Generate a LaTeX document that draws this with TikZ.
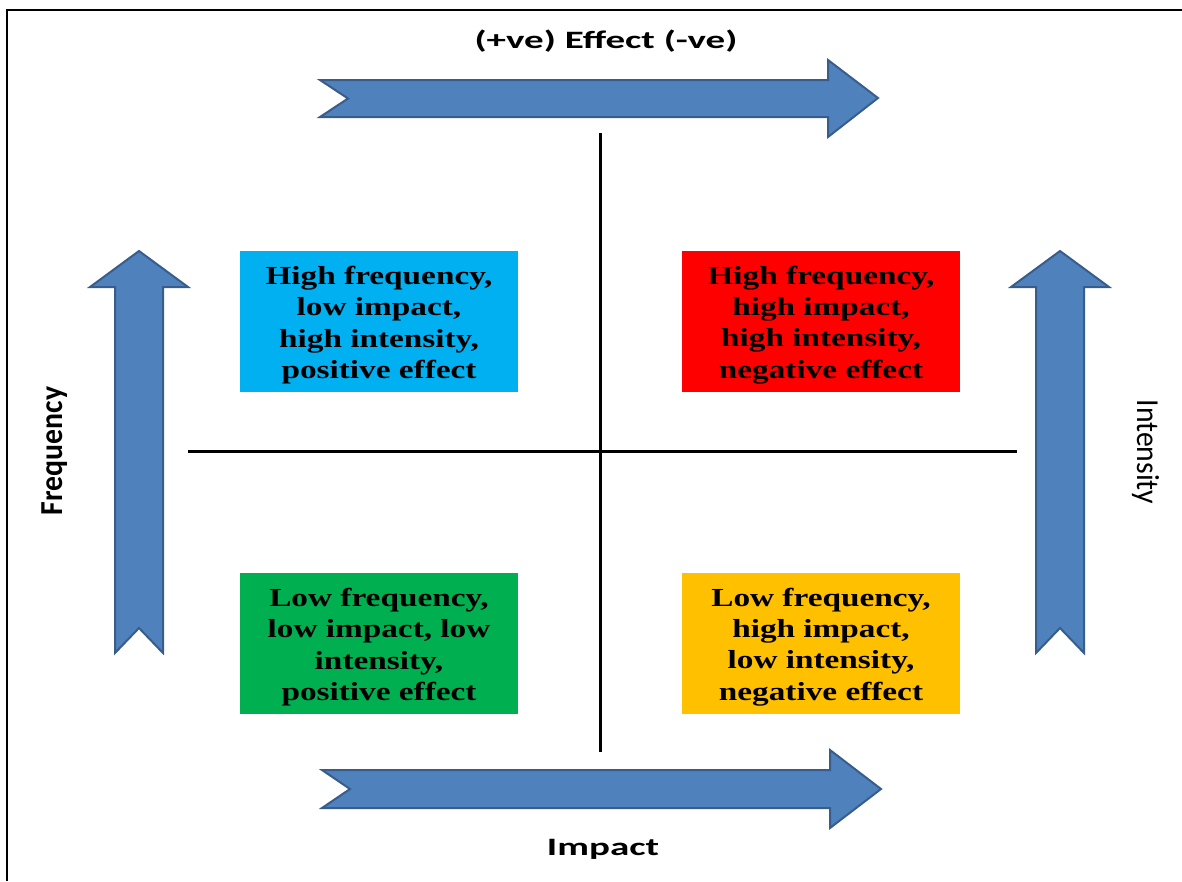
\documentclass[tikz,border=0pt]{standalone}
\usepackage{fontspec}
\newfontfamily\boxfont[FakeStretch=1.28]{Liberation Serif}
\newfontfamily\labfont[FakeStretch=1.56]{Carlito}
\newfontfamily\vlabfont[FakeStretch=0.93]{Carlito}
\definecolor{arrfill}{RGB}{79,129,189}
\definecolor{arrline}{RGB}{56,93,138}
\definecolor{qcyan}{RGB}{0,176,240}
\definecolor{qred}{RGB}{255,0,0}
\definecolor{qgreen}{RGB}{0,176,80}
\definecolor{qorange}{RGB}{255,192,0}
\tikzset{
  bigarrow/.style={fill=arrfill,draw=arrline,line width=2pt,line join=miter},
  quadbox/.style={minimum width=278pt,minimum height=141pt,inner sep=0pt},
  quadtext/.style={inner sep=0pt,align=center,yshift=-3.5pt,
    font=\boxfont\bfseries\fontsize{26}{31.3}\selectfont,text=black},
  axislabel/.style={font=\labfont\bfseries\fontsize{25}{30}\selectfont,inner sep=0pt},
  vlabel/.style={font=\vlabfont\bfseries\fontsize{32}{36}\selectfont,inner sep=0pt},
  crossline/.style={line width=3pt,black}
}
\begin{document}
\begin{tikzpicture}[x=1pt,y=-1pt]
\useasboundingbox (0,0) rectangle (1182,881);
% frame
\draw[line width=2.5pt] (7,881) -- (7,10) -- (1182,10);
% arrows
\draw[bigarrow] (320,80) -- (828,80) -- (828,60) -- (878,98) -- (828,137) -- (828,117) -- (320,117) -- (348,98.5) -- cycle;
\draw[bigarrow] (322,770) -- (830,770) -- (830,750) -- (881,789) -- (830,828) -- (830,808) -- (322,808) -- (350,789) -- cycle;
\draw[bigarrow] (115,653) -- (115,287) -- (90,287) -- (139,251) -- (188,287) -- (163,287) -- (163,653) -- (139,628) -- cycle;
\draw[bigarrow] (1036,653) -- (1036,287) -- (1011,287) -- (1060,251) -- (1109,287) -- (1084,287) -- (1084,653) -- (1060,628) -- cycle;
% cross
\coordinate (vt) at (600,133);
\coordinate (vb) at (600,752);
\coordinate (hl) at (188,451);
\coordinate (hr) at (1017,451);
\draw[crossline] (vt) -- (vb);
\draw[crossline] (hl) -- (hr);
% boxes
\node[quadbox,fill=qcyan] (tl) at (379,321.5) {};
\node[quadbox,fill=qred] (tr) at (821,321.5) {};
\node[quadbox,fill=qgreen] (bl) at (379,643.5) {};
\node[quadbox,fill=qorange] (br) at (821,643.5) {};
\node[quadtext] (tltext) at (tl) {High frequency,\\low impact,\\high intensity,\\positive effect};
\node[quadtext] (trtext) at (tr) {High frequency,\\high impact,\\high intensity,\\negative effect};
\node[quadtext] (bltext) at (bl) {Low frequency,\\low impact, low\\intensity,\\positive effect};
\node[quadtext] (brtext) at (br) {Low frequency,\\high impact,\\low intensity,\\negative effect};
% labels
\node[axislabel] (effect) at (606,41) {(+ve) Effect (-ve)};
\node[axislabel] (impact) at (603,849) {Impact};
\node[vlabel,rotate=90] (freq) at (55,451) {Frequency};
\node[vlabel,font=\vlabfont\fontsize{32}{36}\selectfont,rotate=-90] (inten) at (1146,452) {Intensity};
\end{tikzpicture}
\end{document}
